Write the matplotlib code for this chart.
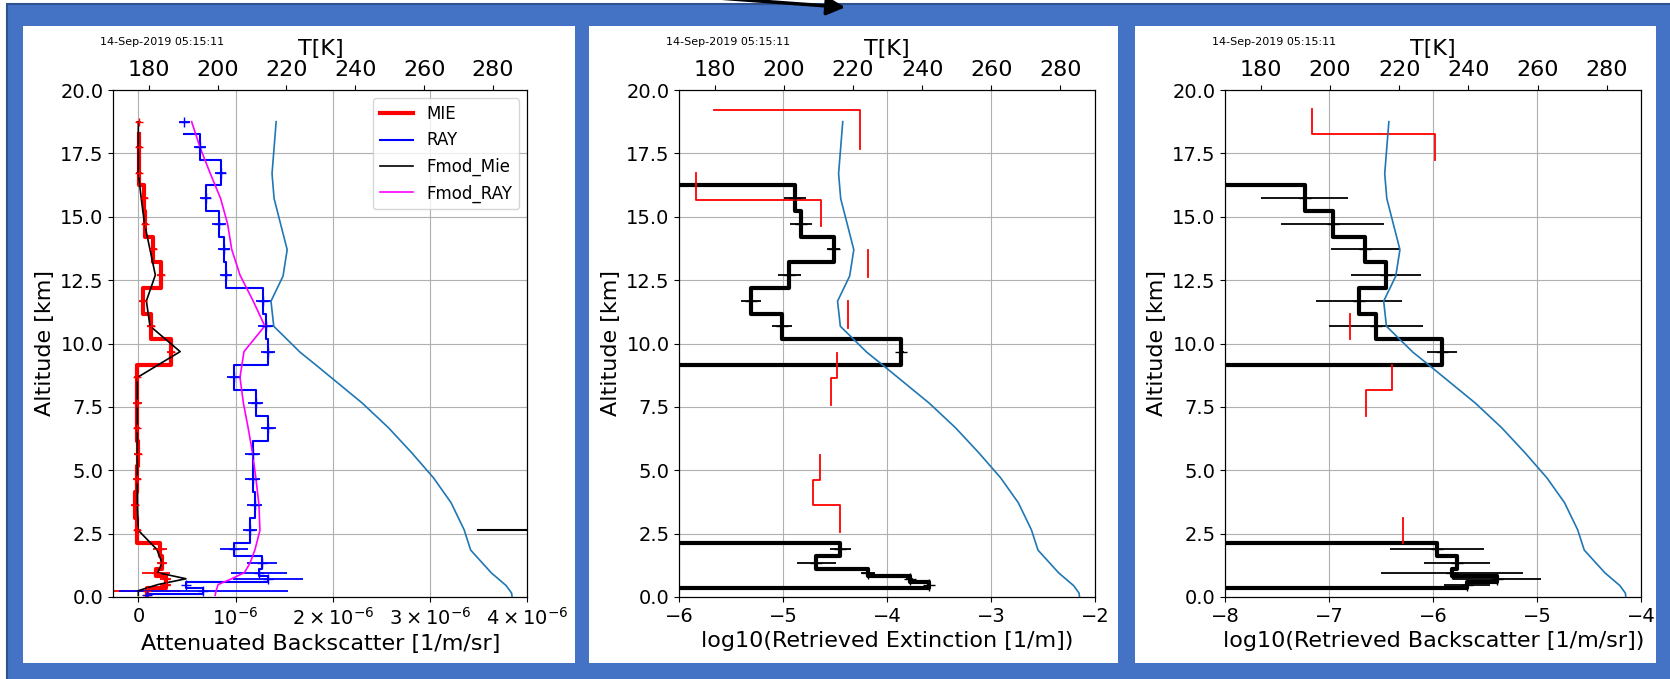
import numpy as np
import matplotlib
matplotlib.use("Agg")
import matplotlib.pyplot as plt
from matplotlib.patches import Rectangle, FancyArrowPatch
from matplotlib.lines import Line2D

W, H = 1670, 679
STAMP = "14-Sep-2019 05:15:11"

# altitude bins [km], top to bottom
bin_edges = [19.25, 18.25, 17.24, 16.25, 15.22, 14.21, 13.22, 12.20, 11.18, 10.18,
             9.16, 8.16, 7.14, 6.16, 5.15, 4.14, 3.13, 2.14, 1.62, 1.09,
             0.83, 0.61, 0.37, 0.13, 0.0]
bin_centers = [18.75, 17.74, 16.74, 15.72, 14.71, 13.71, 12.70, 11.68, 10.69, 9.68,
               8.66, 7.65, 6.65, 5.65, 4.64, 3.63, 2.63, 1.88, 1.35, 0.96,
               0.72, 0.49, 0.25, 0.065]

# panel 1: attenuated backscatter, units of 1e-6 1/m/sr
mie = [0.003, 0.01, 0.01, 0.062, 0.068, 0.154, 0.233, 0.051, 0.13, 0.336,
       -0.015, -0.01, -0.015, 0.0, -0.01, -0.034, -0.01, 0.223, 0.24, 0.18,
       0.28, 0.28, 0.086, 0.086]
mie_err = [0.029, 0.029, 0.029, 0.034, 0.034, 0.039, 0.046, 0.041, 0.038, 0.043,
           0.031, 0.045, 0.034, 0.041, 0.041, 0.045, 0.034, 0.068, 0.051, 0.146,
           0.06, 0.06, 0.34, 0.0]
ray = [0.473, 0.634, 0.846, 0.692, 0.829, 0.884, 0.901, 1.284, 1.308, 1.336,
       0.983, 1.205, 1.336, 1.175, 1.175, 1.199, 1.147, 0.983, 1.274, 1.243,
       1.336, 0.49, 0.668, 0.086]
ray_err = [0.056, 0.06, 0.057, 0.06, 0.068, 0.063, 0.065, 0.075, 0.077, 0.072,
           0.072, 0.077, 0.077, 0.08, 0.08, 0.077, 0.075, 0.14, 0.154, 0.287,
           0.36, 0.0, 0.87, 0.0]
fmod_mie = [0.0, 0.0, 0.0, 0.03, 0.065, 0.12, 0.175, 0.083, 0.12, 0.43,
            -0.01, -0.01, -0.01, -0.01, -0.01, -0.01, 0.0, 0.19, 0.245, 0.2,
            0.49, 0.2, 0.0, 0.0]
fmod_ray = [0.548, 0.634, 0.736, 0.846, 0.918, 0.96, 1.045, 1.18, 1.30, 1.086,
            1.045, 1.08, 1.13, 1.175, 1.21, 1.24, 1.25, 1.2, 1.15, 1.09,
            0.96, 0.82, 0.80, 0.79]
stray_x = [3.49, 4.4]
stray_alt = [2.63, 2.63]

# temperature profile
t_alt = [18.75, 16.7, 15.72, 13.7, 12.66, 11.67, 10.68, 9.65, 9.18, 7.65,
         6.68, 5.7, 4.7, 3.72, 2.65, 1.85, 0.95, 0.45, 0.15, 0.02]
t_k = [217.0, 215.8, 216.4, 220.2, 219.0, 215.5, 216.3, 224.0, 228.3, 242.0,
       249.6, 256.3, 262.7, 267.8, 271.6, 273.5, 279.5, 283.8, 285.4, 285.5]

# panel 2: log10 retrieved extinction (-12 = no retrieval)
ext = [-12, -12, -12, -4.888, -4.83, -4.513, -4.942, -5.311, -5.01, -3.862,
       -12, -12, -12, -12, -12, -12, -12, -4.449, -4.68, -4.183,
       -3.782, -3.6, -12, -12]
ext_err = [np.nan, np.nan, np.nan, 0.104, 0.104, 0.064, 0.112, 0.096, 0.098, 0.02,
           np.nan, np.nan, np.nan, np.nan, np.nan, np.nan, np.nan, 0.099, 0.19, 0.07,
           0.035, 0.02, np.nan, np.nan]
ext_red_edges = [19.21, 19.21, 18.7, 17.66, 16.72, 15.67, 14.62, 13.68, 12.62, 11.67,
                 10.6, 9.64, 8.62, 7.58, 6.6, 5.61, 4.62, 3.61, 2.56]
ext_red = [-5.663, -4.263, -4.263, np.nan, -5.84, -4.641, np.nan, -4.183, np.nan,
           -4.375, np.nan, -4.478, -4.545, np.nan, np.nan, -4.644, -4.718, -4.449]

# panel 3: log10 retrieved backscatter
bsc = [-12, -12, -12, -7.237, -6.968, -6.654, -6.455, -6.718, -6.551, -5.917,
       -12, -12, -12, -12, -12, -12, -12, -5.965, -5.772, -5.82,
       -5.388, -5.676, -12, -12]
bsc_err = [np.nan, np.nan, np.nan, 0.415, 0.494, 0.329, 0.332, 0.413, 0.455, 0.147,
           np.nan, np.nan, np.nan, np.nan, np.nan, np.nan, np.nan, 0.449, 0.32, 0.68,
           0.42, 0.22, np.nan, np.nan]
bsc_red = [-7.167, -5.987, np.nan, np.nan, np.nan, np.nan, np.nan, np.nan, -6.798, np.nan,
           -6.397, -6.647, np.nan, np.nan, np.nan, np.nan, -6.295, np.nan, np.nan, np.nan,
           np.nan, np.nan, np.nan, np.nan]


def steps(ax, vals, edges, scale=1.0, **kw):
    v = np.asarray(vals, float) * scale
    e = np.asarray(edges, float)
    x = np.repeat(v, 2)
    y = np.column_stack([e[:-1], e[1:]]).ravel()
    return ax.plot(x, y, **kw)


def box(x0, x1, y0=90, y1=597):
    return [x0 / W, 1 - y1 / H, (x1 - x0) / W, (y1 - y0) / H]


def setup(ax, x0):
    ax.set_ylim(0, 20)
    ax.set_yticks(np.arange(0, 20.1, 2.5))
    ax.set_yticklabels([f"{v:.1f}" for v in np.arange(0, 20.1, 2.5)])
    ax.grid(True)
    ax.tick_params(labelsize=14)
    ax.set_ylabel("Altitude [km]", fontsize=16)
    axT = ax.twiny()
    axT.set_xlim(169.7, 290)
    axT.set_xticks(range(180, 281, 20))
    axT.tick_params(labelsize=16)
    axT.set_xlabel("T[K]", fontsize=16)
    axT.plot(t_k, t_alt, color="#1f77b4", lw=1.2)
    fig.text((x0 - 13) / W, 1 - 42 / H, STAMP, fontsize=8, va="center")
    return axT


fig = plt.figure(figsize=(W / 100, H / 100), dpi=100)

# slide background
fig.add_artist(Rectangle((7 / W, -0.1), 1.1, 1.1 - 4 / H, transform=fig.transFigure,
                         facecolor="#4472C4", edgecolor="#2F528F", lw=1.5, zorder=-10))
for x0, x1 in [(22.7, 575), (588.6, 1118), (1135, 1656)]:
    fig.add_artist(Rectangle((x0 / W, 1 - 663 / H), (x1 - x0) / W, (663 - 26) / H,
                             transform=fig.transFigure, facecolor="white",
                             edgecolor="none", zorder=-5))
fig.add_artist(FancyArrowPatch((700 / W, 1 + 3.3 / H), (848 / W, 1 - 7.5 / H),
                               transform=fig.transFigure, arrowstyle="-|>",
                               mutation_scale=28, lw=2.5, color="black", zorder=5))

# panel 1
ax1 = fig.add_axes(box(113.3, 527.5))
top_edges = [bin_edges[1]] + bin_edges[1:]
steps(ax1, mie, top_edges, 1e-6, color="red", lw=3)
ax1.errorbar(np.array(mie) * 1e-6, bin_centers, xerr=np.array(mie_err) * 1e-6,
             fmt="+", color="red", ms=6, elinewidth=1.3)
steps(ax1, ray, top_edges, 1e-6, color="blue", lw=1.5)
ax1.errorbar(np.array(ray) * 1e-6, bin_centers, xerr=np.array(ray_err) * 1e-6,
             fmt="+", color="blue", ms=7, elinewidth=1.3)
ax1.plot(np.array(fmod_mie) * 1e-6, bin_centers, color="black", lw=1.2)
ax1.plot(np.array(fmod_ray) * 1e-6, bin_centers, color="magenta", lw=1.2)
ax1.plot(np.array(stray_x) * 1e-6, stray_alt, color="black", lw=1.5)
ax1.set_xlim(-0.257e-6, 4e-6)
ax1.set_xticks([0, 1e-6, 2e-6, 3e-6, 4e-6])
ax1.set_xticklabels(["$0$", "$10^{-6}$", r"$2\times10^{-6}$", r"$3\times10^{-6}$",
                     r"$4\times10^{-6}$"])
ax1.set_xlabel("Attenuated Backscatter [1/m/sr]", fontsize=16)
handles = [Line2D([], [], color="red", lw=3, label="MIE"),
           Line2D([], [], color="blue", lw=1.5, label="RAY"),
           Line2D([], [], color="black", lw=1.2, label="Fmod_Mie"),
           Line2D([], [], color="magenta", lw=1.2, label="Fmod_RAY")]
ax1.legend(handles=handles, loc="upper right", fontsize=12)
setup(ax1, 113.3)

# panel 2
ax2 = fig.add_axes(box(679.3, 1095))
steps(ax2, ext, bin_edges, color="black", lw=3)
ok = np.isfinite(ext_err)
ax2.errorbar(np.array(ext)[ok], np.array(bin_centers)[ok], xerr=np.array(ext_err)[ok],
             fmt="+", color="black", ms=9, elinewidth=1.3)
steps(ax2, ext_red, ext_red_edges, color="red", lw=1.3)
ax2.set_xlim(-6, -2)
ax2.set_xticks([-6, -5, -4, -3, -2])
ax2.set_xlabel("log10(Retrieved Extinction [1/m])", fontsize=16)
setup(ax2, 679.3)

# panel 3
ax3 = fig.add_axes(box(1225.3, 1641.3))
steps(ax3, bsc, bin_edges, color="black", lw=3)
ok = np.isfinite(bsc_err)
ax3.errorbar(np.array(bsc)[ok], np.array(bin_centers)[ok], xerr=np.array(bsc_err)[ok],
             fmt="+", color="black", ms=9, elinewidth=1.3)
steps(ax3, bsc_red, bin_edges, color="red", lw=1.3)
ax3.set_xlim(-8, -4)
ax3.set_xticks([-8, -7, -6, -5, -4])
ax3.set_xlabel("log10(Retrieved Backscatter [1/m/sr])", fontsize=16)
setup(ax3, 1225.3)

fig.savefig("out.png", dpi=100)
